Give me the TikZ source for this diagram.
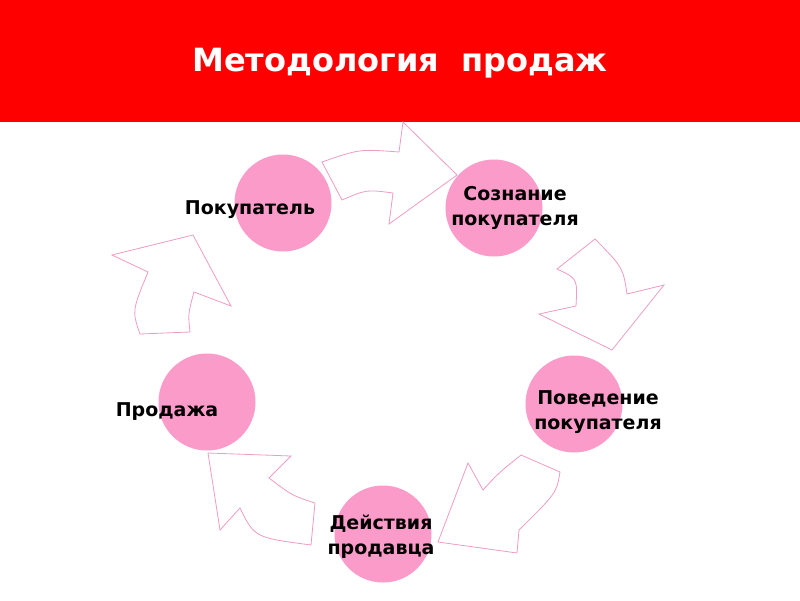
\documentclass[tikz,border=0pt]{standalone}
\usepackage{fontspec}
\setmainfont{DejaVu Sans}
\definecolor{barred}{HTML}{FF0000}
\definecolor{circpink}{HTML}{FB9BC9}
\definecolor{arrpink}{HTML}{EE9CC2}
\begin{document}
\begin{tikzpicture}[x=1pt,y=-1pt,
  blockarrow/.style={draw=arrpink,line width=0.8pt,fill=white,line join=miter},
  stage/.style={circle,fill=circpink,minimum size=97pt,inner sep=0pt},
  lab/.style={font=\bfseries\fontsize{19}{25}\selectfont,align=center,text=black}]
\useasboundingbox (0,0) rectangle (800,600);
\fill[white] (0,0) rectangle (800,600);
\fill[barred] (0,0) rectangle (800,122);
\node[font=\bfseries\fontsize{32}{38}\selectfont,text=white] (title) at (400,63) {Методология\ \ продаж};
% arrows
\draw[blockarrow] (322,162) .. controls (359.5,149) .. (399,152) -- (403,122) -- (457,175) -- (389,224) -- (393,193) .. controls (366.5,189.5) .. (342,200) -- cycle;
\draw[blockarrow] (595,239) .. controls (623,267.5) .. (627,294) -- (664,285) -- (612,350) -- (539,314) -- (576,306) .. controls (577.5,278.5) .. (557,269) -- cycle;
\draw[blockarrow] (560,472) -- (521,455) .. controls (498,473.5) .. (483,490) -- (468,463) -- (438,542) -- (517,553) -- (519,530) .. controls (556.5,493) .. (560,472) -- cycle;
\draw[blockarrow] (311,545) -- (315,503) .. controls (292,495.5) .. (269,478) -- (291,456) -- (208,453) -- (220,530) -- (240,508) .. controls (254.5,537.5) .. (311,545) -- cycle;
\draw[blockarrow] (140,334) -- (190,332) .. controls (188,314) .. (194,292) -- (231,306) -- (193,235) -- (112,255) -- (148,272) .. controls (132,311) .. (140,334) -- cycle;
% circles
\node[stage] (c1) at (283,203) {};
\node[stage] (c2) at (494,208) {};
\node[stage] (c3) at (574,404) {};
\node[stage] (c4) at (383,534) {};
\node[stage] (c5) at (207,402) {};
% labels
\node[lab] (l1) at (250,210) {Покупатель};
\node[lab] (l2) at (515,208) {Сознание\\покупателя};
\node[lab] (l3) at (598,412) {Поведение\\покупателя};
\node[lab] (l4) at (381,537) {Действия\\ продавца};
\node[lab] (l5) at (167,412) {Продажа};
\end{tikzpicture}
\end{document}
